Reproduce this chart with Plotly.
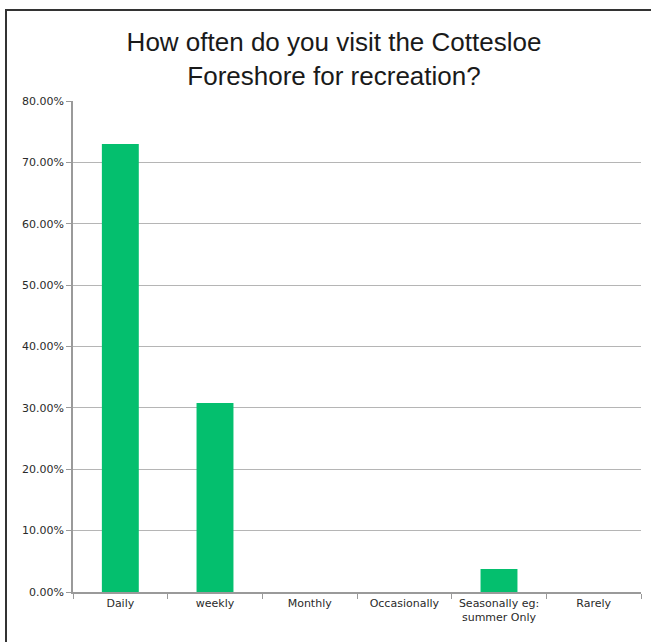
import plotly.graph_objects as go

categories = ["Daily", "weekly", "Monthly", "Occasionally", "Seasonally eg:<br>summer Only", "Rarely"]
values = [0.730, 0.308, 0.0, 0.0, 0.0375, 0.0]
y_ticks = [0, 0.1, 0.2, 0.3, 0.4, 0.5, 0.6, 0.7, 0.8]

title_text = "How often do you visit the Cottesloe<br>Foreshore for recreation?"

fig = go.Figure(
    go.Bar(
        x=categories,
        y=values,
        marker=dict(color="#04BF6E", line=dict(width=0)),
        width=0.39,
        hoverinfo="x+y",
    )
)

W, H = 651, 642
L, R, T, B = 73, 10, 101, 50
pw = W - L - R
ph = H - T - B

def px_x(p):
    return (p - L) / pw

def px_y(p):
    return (H - B - p) / ph

tick_font = dict(family="DejaVu Sans, sans-serif", size=11, color="#2a2a2a")

fig.update_layout(
    width=W,
    height=H,
    autosize=False,
    margin=dict(l=L, r=R, t=T, b=B, pad=0),
    paper_bgcolor="white",
    plot_bgcolor="white",
    showlegend=False,
    title=dict(
        text=title_text,
        x=(334 / W),
        xanchor="center",
        xref="container",
        y=1 - 51 / H,
        yanchor="middle",
        yref="container",
        font=dict(family="Liberation Sans, Arial, sans-serif", size=26, color="#1a1a1a"),
    ),
    font=tick_font,
    xaxis=dict(
        showline=True,
        linecolor="#9a9a9a",
        linewidth=1.5,
        ticks="outside",
        tickson="boundaries",
        ticklen=5,
        tickcolor="#9a9a9a",
        showgrid=False,
        tickfont=tick_font,
    ),
    yaxis=dict(
        range=[0, 0.8],
        tickvals=y_ticks,
        tickformat=".2%",
        showline=True,
        linecolor="#9a9a9a",
        linewidth=1.5,
        ticks="outside",
        ticklen=5,
        tickcolor="#9a9a9a",
        showgrid=True,
        gridcolor="#b5b5b5",
        gridwidth=1.2,
        zeroline=False,
        tickfont=tick_font,
    ),
    shapes=[
        dict(type="line", xref="paper", yref="paper",
             x0=px_x(5), x1=px_x(W + 2), y0=px_y(10), y1=px_y(10),
             line=dict(color="#333333", width=2)),
        dict(type="line", xref="paper", yref="paper",
             x0=px_x(6), x1=px_x(6), y0=px_y(10), y1=px_y(H + 2),
             line=dict(color="#333333", width=2)),
    ],
)

fig.write_html(
    "out.html",
    config={"displayModeBar": False},
    post_script="document.body.style.margin='0';document.body.style.overflow='hidden';",
)
